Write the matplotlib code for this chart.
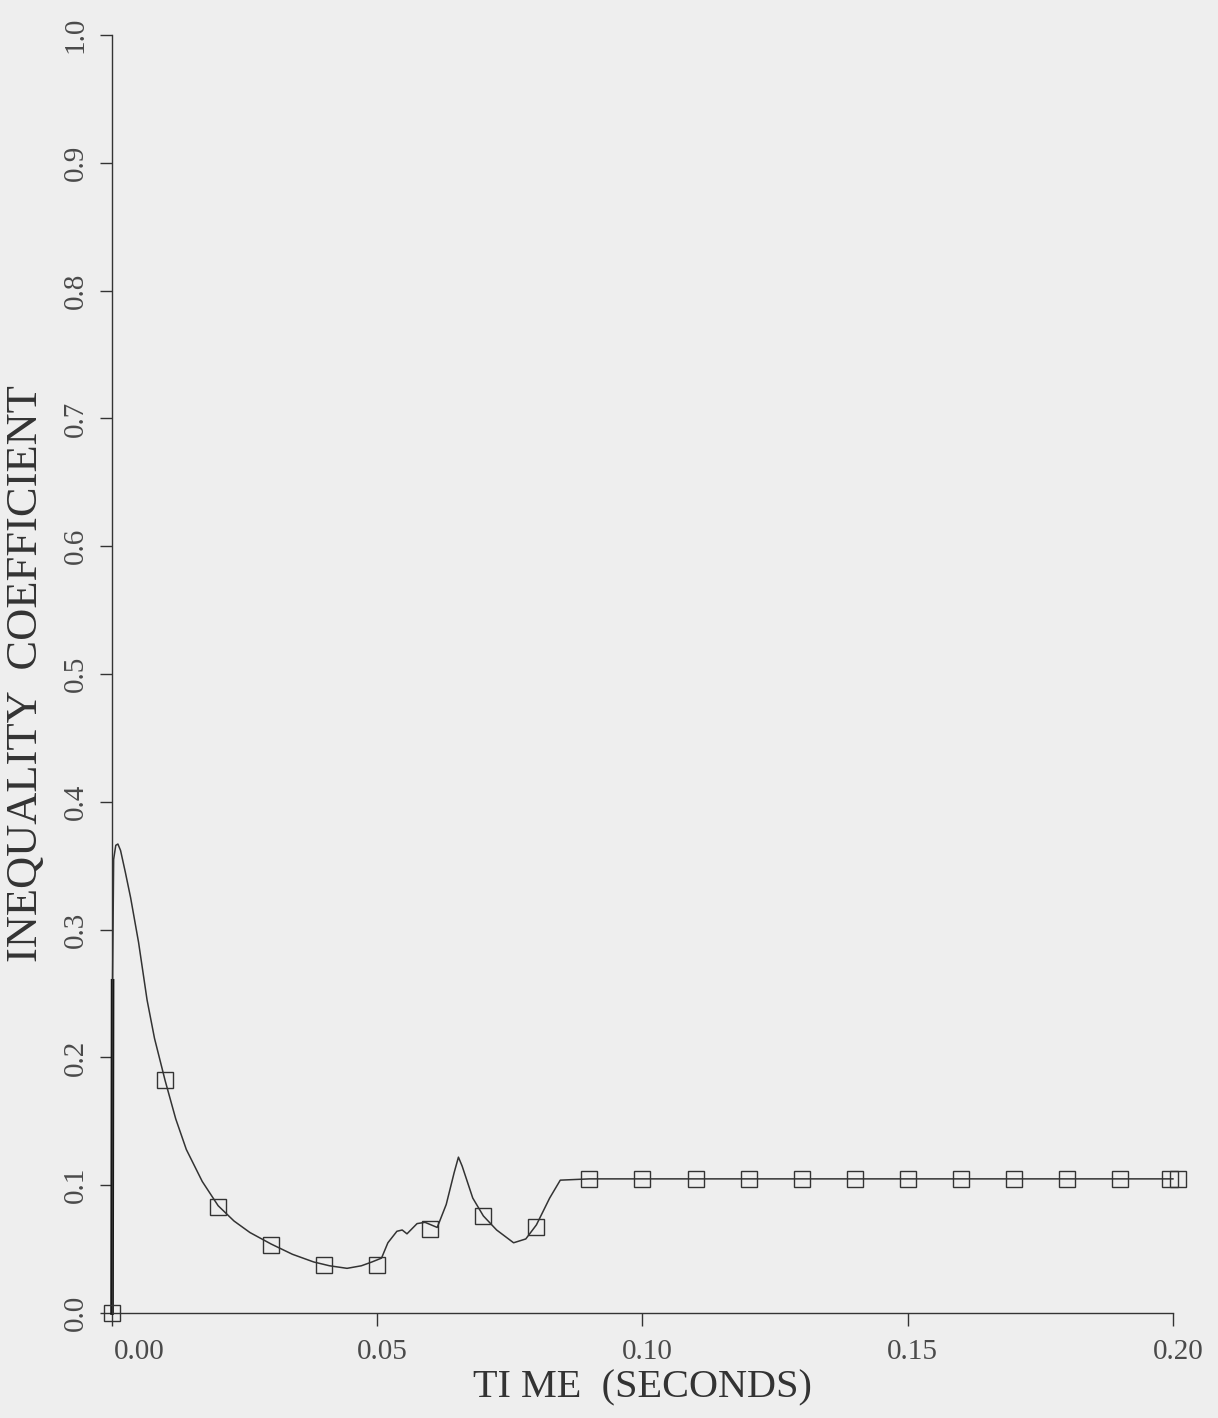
import numpy as np
import matplotlib.pyplot as plt
import matplotlib.transforms as mtransforms

# Data
curve_t = [0.0, 0.0001, 0.0003, 0.0007, 0.0011, 0.0016, 0.0025, 0.0035, 0.005,
           0.0066, 0.008, 0.01, 0.012, 0.014, 0.017, 0.02, 0.023, 0.026, 0.03,
           0.034, 0.038, 0.041, 0.0443, 0.047, 0.049, 0.0508, 0.052, 0.0537,
           0.0547, 0.0556, 0.0575, 0.059, 0.0613, 0.063, 0.0645, 0.0653, 0.066,
           0.068, 0.07, 0.0725, 0.0757, 0.078, 0.08, 0.0825, 0.0845, 0.09, 0.2]
curve_val = [0.0, 0.26, 0.355, 0.366, 0.367, 0.362, 0.345, 0.325, 0.29,
             0.245, 0.215, 0.182, 0.152, 0.128, 0.103, 0.084, 0.072, 0.063, 0.054,
             0.046, 0.040, 0.037, 0.035, 0.037, 0.040, 0.043, 0.055, 0.064,
             0.065, 0.062, 0.070, 0.071, 0.067, 0.085, 0.110, 0.122, 0.115,
             0.090, 0.076, 0.065, 0.055, 0.058, 0.069, 0.090, 0.104, 0.105, 0.105]

marker_t = [0.0, 0.01, 0.02, 0.03, 0.04, 0.05, 0.06, 0.07, 0.08, 0.09, 0.10,
            0.11, 0.12, 0.13, 0.14, 0.15, 0.16, 0.17, 0.18, 0.19, 0.1995, 0.201]
marker_val = [0.0, 0.182, 0.083, 0.053, 0.038, 0.038, 0.066, 0.076, 0.067, 0.105,
              0.105, 0.105, 0.105, 0.105, 0.105, 0.105, 0.105, 0.105, 0.105,
              0.105, 0.105, 0.105]

x_ticks = [0.0, 0.05, 0.10, 0.15, 0.20]
x_labels = ['0.00', '0.05', '0.10', '0.15', '0.20']
y_ticks = [0.0, 0.1, 0.2, 0.3, 0.4, 0.5, 0.6, 0.7, 0.8, 0.9, 1.0]

BG = '#eeeeee'
INK = '#333333'
plt.rcParams['font.family'] = ['Liberation Serif', 'DejaVu Serif']

fig = plt.figure(figsize=(12.18, 14.18), dpi=100, facecolor=BG)
ax = fig.add_axes([0.092, 0.074, 0.871, 0.9013])
ax.set_facecolor(BG)

ax.plot(curve_t, curve_val, color=INK, lw=1.1, clip_on=False)
# initial jump drawn over the axis looks heavier in the original
ax.plot(curve_t[:2], curve_val[:2], color='#111111', lw=2.6, clip_on=False)
ax.plot(marker_t, marker_val, ls='none', marker='s', ms=11, mfc='none',
        mec=INK, mew=1.0, clip_on=False)

ax.set_xlim(0, 0.2)
ax.set_ylim(0, 1.0)
for side in ('top', 'right'):
    ax.spines[side].set_visible(False)
for side in ('left', 'bottom'):
    ax.spines[side].set_color(INK)
    ax.spines[side].set_linewidth(1.0)

ax.set_xticks(x_ticks)
ax.set_xticklabels(x_labels)
ax.set_yticks(y_ticks)
ax.set_yticklabels([f'{v:.1f}' for v in y_ticks], rotation=90, va='center')
ax.tick_params(axis='both', direction='out', length=9, width=1.0, colors=INK,
               labelsize=21, labelcolor='#4a4a4a')
ax.tick_params(axis='x', pad=10)
ax.tick_params(axis='y', pad=8)

# first x label sits right of the y axis
lbl0 = ax.get_xticklabels()[0]
lbl0.set_transform(lbl0.get_transform() +
                   mtransforms.ScaledTranslation(0.27, 0, fig.dpi_scale_trans))
for lbl in ax.get_xticklabels()[1:]:
    lbl.set_transform(lbl.get_transform() +
                      mtransforms.ScaledTranslation(0.05, 0, fig.dpi_scale_trans))

ax.set_xlabel('TI ME  (SECONDS)', fontsize=29, color='#333333', labelpad=3)
ax.set_ylabel('INEQUALITY  COEFFICIENT', fontsize=32, color='#333333', labelpad=12)

fig.savefig('out.png', dpi=100, facecolor=BG)
